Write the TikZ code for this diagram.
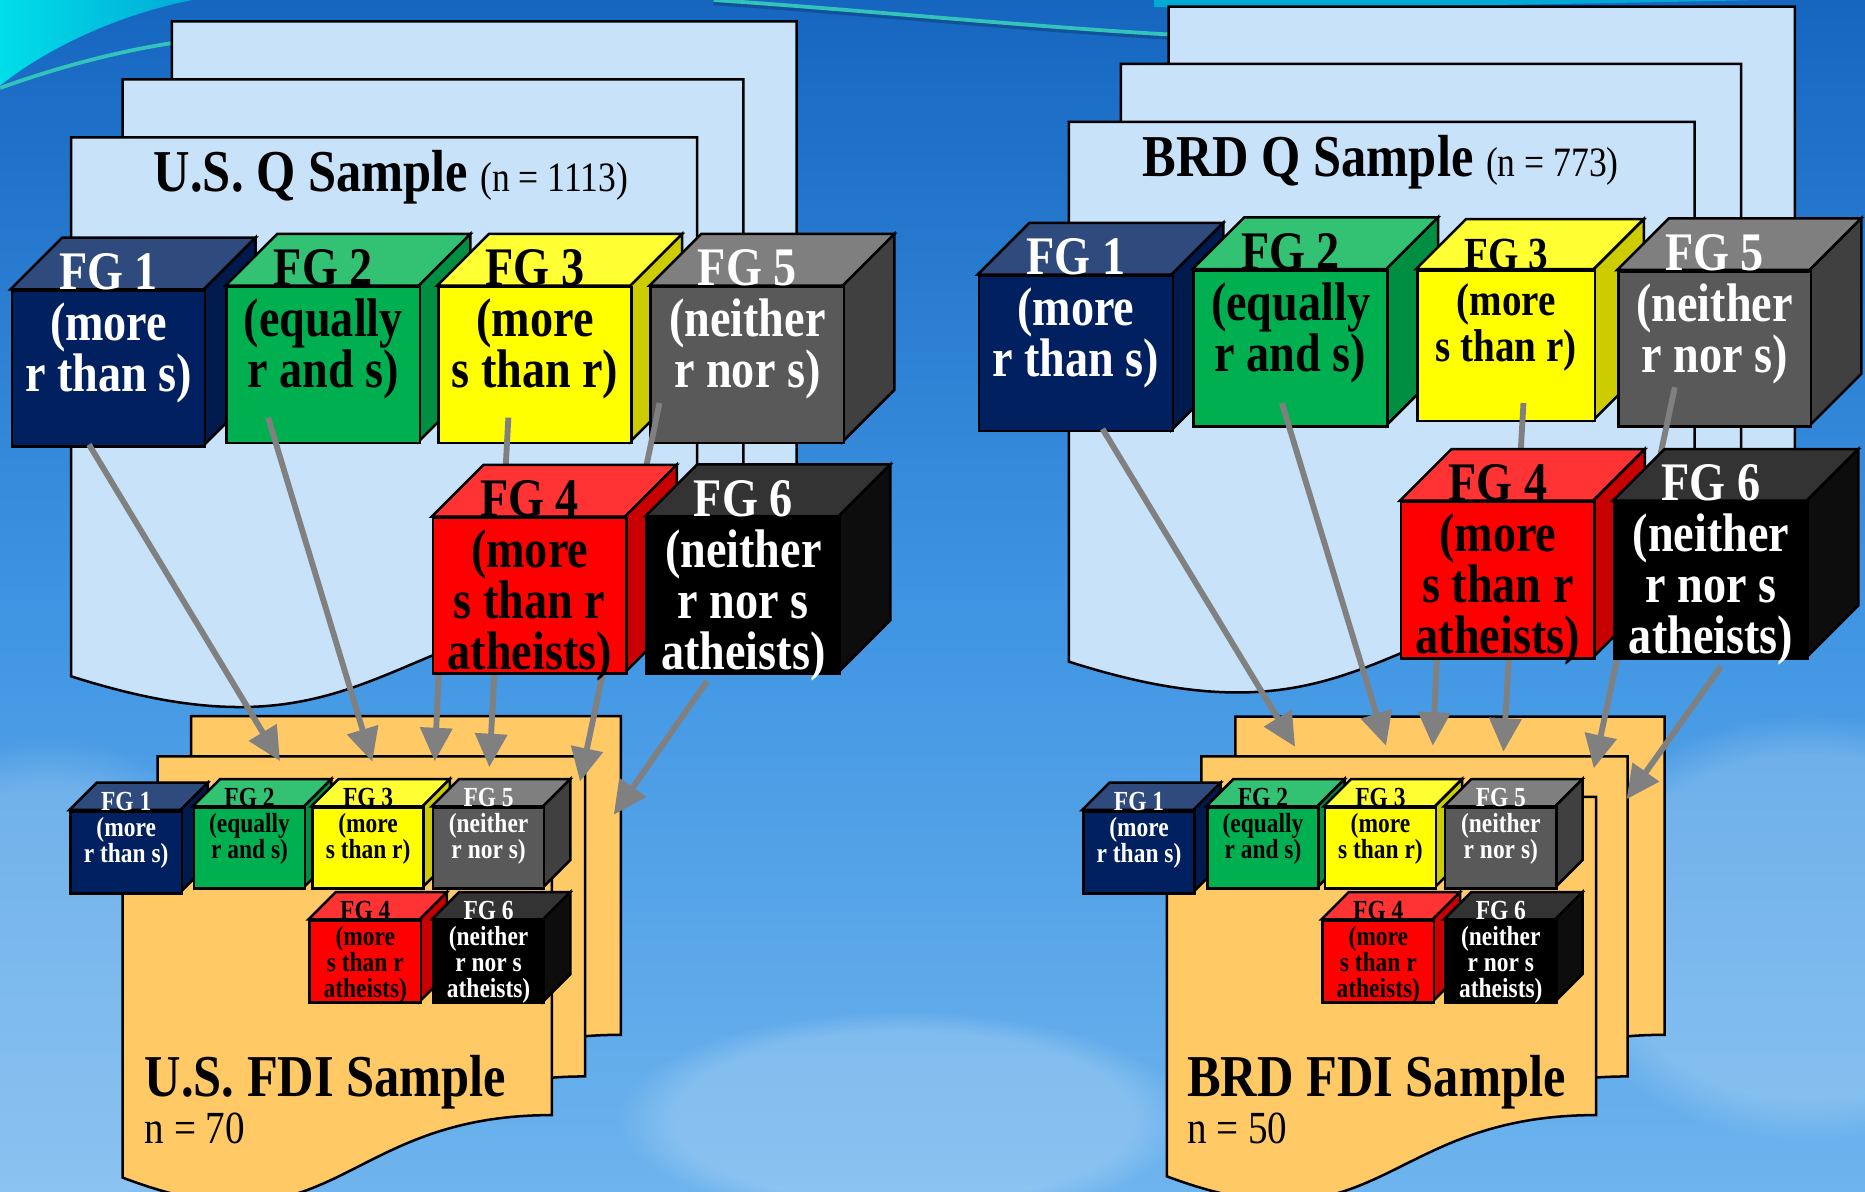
\documentclass[tikz,border=0pt]{standalone}
\usepackage{fontspec}
\setmainfont{Liberation Serif}[FakeStretch=0.85]
\usetikzlibrary{arrows.meta,calc,fadings}
\usepackage{xcolor}
\definecolor{skytop}{RGB}{22,102,192}
\definecolor{skymid}{RGB}{62,148,226}
\definecolor{skybot}{RGB}{110,180,238}
\definecolor{swoosh}{RGB}{0,222,234}
\definecolor{swooshend}{RGB}{0,170,212}
\definecolor{streak}{RGB}{50,196,186}
\definecolor{qpagefill}{RGB}{200,226,250}
\definecolor{fdipagefill}{RGB}{255,201,102}
\definecolor{arrowgrey}{RGB}{128,128,128}
\definecolor{navyF}{HTML}{002060}
\definecolor{navyT}{HTML}{2F4B7E}
\definecolor{navyS}{HTML}{001A4E}
\definecolor{greenF}{HTML}{00B050}
\definecolor{greenT}{HTML}{33C173}
\definecolor{greenS}{HTML}{008F42}
\definecolor{yellowF}{HTML}{FFFF00}
\definecolor{yellowT}{HTML}{FFFF33}
\definecolor{yellowS}{HTML}{CCCC00}
\definecolor{greyF}{HTML}{595959}
\definecolor{greyT}{HTML}{7F7F7F}
\definecolor{greyS}{HTML}{404040}
\definecolor{redF}{HTML}{FF0000}
\definecolor{redT}{HTML}{FF3333}
\definecolor{redS}{HTML}{C80000}
\definecolor{blackF}{HTML}{000000}
\definecolor{blackT}{HTML}{333333}
\definecolor{blackS}{HTML}{0D0D0D}

% page with a wavy bottom: style, left, right, top, right bottom, left bottom
\newcommand{\docpage}[6]{%
  \filldraw[#1] (#2,-#4) -- (#3,-#4) -- (#3,-#5)
    .. controls ({(#2+#3)/2},-#5) and ({(#2+#3)/2},{-#5-2.314*(#6-#5)}) .. (#2,-#6) -- cycle;}

% cube: name, x, y (front top left), width, height, depth, colour, text style, text
\newcommand{\fgcube}[9]{%
  \filldraw[cubeline, fill=#7T] (#2,#3) -- ++(#6,#6) -- ++(#4,0) -- ++(-#6,-#6) -- cycle;
  \filldraw[cubeline, fill=#7S] (#2+#4,#3) -- ++(#6,#6) -- ++(0,-#5) -- ++(-#6,-#6) -- cycle;
  \node[cubeline, fill=#7F, minimum width=#4cm, minimum height=#5cm, inner sep=0pt, anchor=north west] (#1) at (#2,#3) {};
  \node[#8, anchor=north] (#1t) at (#1.north) {#9};}

\begin{document}
\begin{tikzpicture}[
    cubeline/.style={draw=black, line width=0.6pt},
    qpage/.style={draw=black, line width=0.6pt, fill=qpagefill},
    fdipage/.style={draw=black, line width=0.6pt, fill=fdipagefill},
    cloud/.style={white, opacity=0.2, path fading=circle with fuzzy edge 20 percent},
    bigtext/.style={font=\fontsize{13}{12.2}\selectfont\bfseries, align=center, inner sep=0pt, yshift=8.8pt},
    midtext/.style={font=\fontsize{11}{11}\selectfont\bfseries, align=center, inner sep=0pt, yshift=7.5pt},
    smalltext/.style={font=\fontsize{6.6}{6.2}\selectfont\bfseries, align=center, inner sep=0pt, yshift=4.5pt},
    title/.style={font=\fontsize{14.2}{16}\selectfont\bfseries, inner sep=0pt, anchor=base west},
    count/.style={font=\fontsize{11}{13}\selectfont, inner sep=0pt, anchor=base west},
    flow/.style={draw=arrowgrey, line width=1.4pt, -{Triangle[length=8pt,width=7.5pt]}}]
    \useasboundingbox (0,0) rectangle (15.68,-10.02);
    \shade[top color=skytop, bottom color=skybot, middle color=skymid] (0,0) rectangle (15.68,-10.02);
    \shade[left color=swoosh, right color=swooshend] (0,0) -- (1.62,0) .. controls (1.0,-0.12) and (0.4,-0.4) .. (0,-0.72) -- cycle;
    \draw[streak, line width=0.9pt] (0,-0.74) .. controls (0.5,-0.56) and (1.0,-0.43) .. (1.46,-0.36);
    \draw[skytop!60!black, opacity=0.5, line width=0.8pt] (6.0,-0.03) .. controls (7.2,-0.11) and (8.6,-0.25) .. (9.83,-0.32);
    \draw[streak, line width=0.9pt] (6.0,0) .. controls (7.2,-0.08) and (8.6,-0.22) .. (9.83,-0.29);
    \fill[swooshend] (9.7,0) -- (14.8,0) .. controls (13,-0.04) and (11,-0.07) .. (9.7,-0.06) -- cycle;
    \fill[cloud] (0.4,-8.4) ellipse (2cm and 2.2cm);
    \fill[cloud] (15.2,-7.8) ellipse (2.2cm and 1.8cm);
    \fill[cloud] (7.6,-9.4) ellipse (2.4cm and 0.9cm);

    \docpage{qpage}{1.446}{6.697}{0.18}{4.70}{5.20}
    \docpage{qpage}{1.03}{6.25}{0.668}{4.85}{5.35}
    \docpage{qpage}{0.598}{5.86}{1.156}{5.046}{5.686}
    \docpage{qpage}{9.825}{15.09}{0.056}{4.55}{5.05}
    \docpage{qpage}{9.423}{14.638}{0.537}{4.70}{5.20}
    \docpage{qpage}{8.987}{14.247}{1.025}{4.922}{5.563}
    \node[title] (usqtitle) at (1.287,-1.614) {U.S. Q Sample {\fontsize{10}{12}\selectfont\mdseries (n = 1113)}};
    \node[title] (brdqtitle) at (9.60,-1.483) {BRD Q Sample {\fontsize{10}{12}\selectfont\mdseries (n = 773)}};

    \docpage{fdipage}{1.606}{5.22}{6.02}{8.70}{9.22}
    \docpage{fdipage}{1.326}{4.92}{6.36}{9.05}{9.57}
    \docpage{fdipage}{1.03}{4.64}{6.68}{9.375}{9.90}
    \docpage{fdipage}{10.386}{13.995}{6.025}{8.70}{9.22}
    \docpage{fdipage}{10.10}{13.685}{6.36}{9.05}{9.57}
    \docpage{fdipage}{9.81}{13.42}{6.70}{9.375}{9.89}
    \node[title] (usfdititle) at (1.21,-9.22) {U.S. FDI Sample};
    \node[count] (usfdicount) at (1.21,-9.61) {n = 70};
    \node[title] (brdfdititle) at (9.975,-9.22) {BRD FDI Sample};
    \node[count] (brdfdicount) at (9.975,-9.61) {n = 50};

    \fgcube{usfdi1}{0.583}{-6.81}{0.935}{0.69}{0.23}{navy}{smalltext, white}{FG 1\\(more\\r than s)}
    \fgcube{usfdi2}{1.62}{-6.78}{0.935}{0.68}{0.23}{green}{smalltext}{FG 2\\(equally\\r and s)}
    \fgcube{usfdi3}{2.617}{-6.78}{0.935}{0.68}{0.23}{yellow}{smalltext}{FG 3\\(more\\s than r)}
    \fgcube{usfdi5}{3.63}{-6.78}{0.935}{0.68}{0.23}{grey}{smalltext, white}{FG 5\\(neither\\r nor s)}
    \fgcube{usfdi4}{2.593}{-7.73}{0.935}{0.69}{0.23}{red}{smalltext}{FG 4\\(more\\s than r\\atheists)}
    \fgcube{usfdi6}{3.63}{-7.73}{0.935}{0.69}{0.23}{black}{smalltext, white}{FG 6\\(neither\\r nor s\\atheists)}
    \fgcube{brdfdi1}{9.098}{-6.81}{0.935}{0.69}{0.23}{navy}{smalltext, white}{FG 1\\(more\\r than s)}
    \fgcube{brdfdi2}{10.14}{-6.78}{0.935}{0.68}{0.23}{green}{smalltext}{FG 2\\(equally\\r and s)}
    \fgcube{brdfdi3}{11.128}{-6.78}{0.935}{0.68}{0.23}{yellow}{smalltext}{FG 3\\(more\\s than r)}
    \fgcube{brdfdi5}{12.14}{-6.78}{0.935}{0.68}{0.23}{grey}{smalltext, white}{FG 5\\(neither\\r nor s)}
    \fgcube{brdfdi4}{11.11}{-7.73}{0.935}{0.69}{0.23}{red}{smalltext}{FG 4\\(more\\s than r\\atheists)}
    \fgcube{brdfdi6}{12.14}{-7.73}{0.935}{0.69}{0.23}{black}{smalltext, white}{FG 6\\(neither\\r nor s\\atheists)}

    \fgcube{usfg1}{0.09}{-2.432}{1.625}{1.31}{0.435}{navy}{bigtext, white}{FG 1\\(more\\r than s)}
    \fgcube{usfg2}{1.895}{-2.402}{1.625}{1.31}{0.435}{green}{bigtext}{FG 2\\(equally\\r and s)}
    \fgcube{usfg3}{3.675}{-2.402}{1.625}{1.31}{0.435}{yellow}{bigtext}{FG 3\\(more\\s than r)}
    \fgcube{usfg5}{5.46}{-2.402}{1.625}{1.31}{0.435}{grey}{bigtext, white}{FG 5\\(neither\\r nor s)}
    \fgcube{brdfg1}{8.22}{-2.308}{1.63}{1.307}{0.435}{navy}{bigtext, white}{FG 1\\(more\\r than s)}
    \fgcube{brdfg2}{10.025}{-2.263}{1.63}{1.314}{0.435}{green}{bigtext}{FG 2\\(equally\\r and s)}
    \fgcube{brdfg3}{11.905}{-2.263}{1.495}{1.265}{0.42}{yellow}{midtext}{FG 3\\(more\\s than r)}
    \fgcube{brdfg5}{13.595}{-2.27}{1.62}{1.307}{0.435}{grey}{bigtext, white}{FG 5\\(neither\\r nor s)}

    \coordinate (ush1) at (2.354,-6.398);
    \coordinate (ush2) at (3.13,-6.404);
    \coordinate (ush3) at (4.114,-6.45);
    \coordinate (ush4) at (3.655,-6.40);
    \coordinate (ush5) at (4.877,-6.57);
    \coordinate (ush6) at (5.16,-6.85);
    \coordinate (brdh1) at (10.888,-6.278);
    \coordinate (brdh2) at (11.653,-6.27);
    \coordinate (brdh3) at (12.64,-6.32);
    \coordinate (brdh4) at (12.046,-6.27);
    \coordinate (brdh5) at (13.40,-6.46);
    \coordinate (brdh6) at (13.675,-6.72);

    \draw[flow] ($(usfg1.south)+(-0.165,0.026)$) -- (ush1);
    \draw[flow] ($(usfg2.south)+(-0.464,0.222)$) -- (ush2);
    \draw[flow] ($(usfg3.south)+(-0.224,0.222)$) -- (ush3);
    \draw[flow] ($(usfg5.south)+(-0.738,0.345)$) -- (ush5);
    \draw[flow] ($(brdfg1.south)+(0.224,0.03)$) -- (brdh1);
    \draw[flow] ($(brdfg2.south)+(-0.073,0.21)$) -- (brdh2);
    \draw[flow] ($(brdfg3.south)+(0.1455,0.161)$) -- (brdh3);
    \draw[flow] ($(brdfg5.south)+(-0.335,0.342)$) -- (brdh5);
    \draw[flow] (3.71,-5.2) -- (ush4);
    \draw[flow] (12.104,-5.0) -- (brdh4);

    \fgcube{usfg4}{3.63}{-4.343}{1.625}{1.31}{0.435}{red}{bigtext}{FG 4\\(more\\s than r\\atheists)}
    \fgcube{usfg6}{5.426}{-4.34}{1.625}{1.31}{0.435}{black}{bigtext, white}{FG 6\\(neither\\r nor s\\atheists)}
    \fgcube{brdfg4}{11.77}{-4.21}{1.625}{1.315}{0.435}{red}{bigtext}{FG 4\\(more\\s than r\\atheists)}
    \fgcube{brdfg6}{13.56}{-4.21}{1.63}{1.315}{0.435}{black}{bigtext, white}{FG 6\\(neither\\r nor s\\atheists)}

    \draw[flow] ($(usfg6.south)+(-0.3045,-0.055)$) -- (ush6);
    \draw[flow] ($(brdfg6.south)+(0.085,-0.055)$) -- (brdh6);
\end{tikzpicture}
\end{document}
